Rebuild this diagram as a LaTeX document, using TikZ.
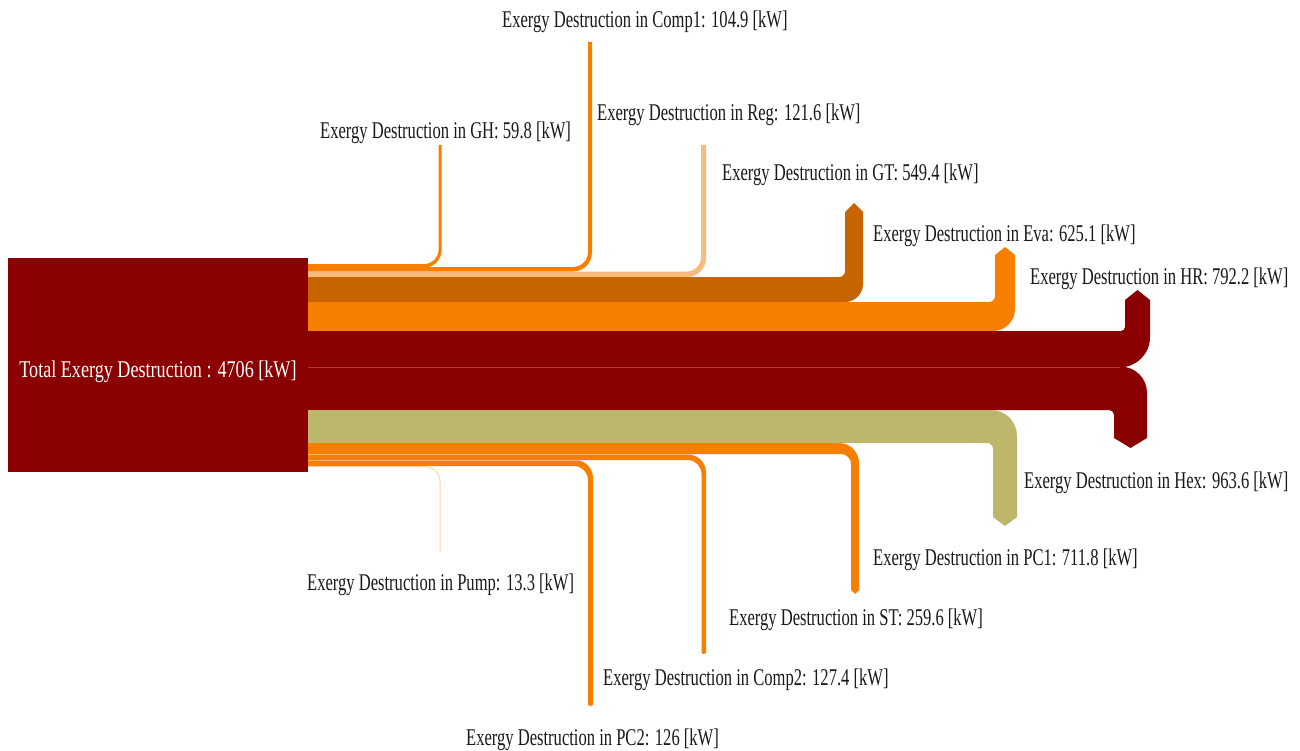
\documentclass[tikz,border=0pt]{standalone}
\usepackage{fontspec}
\setmainfont{Liberation Serif}[FakeStretch=0.69]
\newfontfamily\totalfont{Liberation Serif}[FakeStretch=0.755]
\definecolor{dred}{RGB}{139,0,0}
\definecolor{gtor}{RGB}{200,100,0}
\definecolor{orng}{RGB}{247,127,0}
\definecolor{lor}{RGB}{249,187,125}
\definecolor{olv}{RGB}{189,183,107}
\definecolor{pumpc}{RGB}{255,214,170}
\definecolor{txt}{RGB}{25,25,25}
\newcommand\lblfont{\fontsize{24}{28}\selectfont}
% #1 colour, #2 yt, #3 yb, #4 xl, #5 xr, #6 outer radius, #7 inner radius, #8 end y, #9 tip y
\newcommand\upflow[9]{%
  \fill[#1] (306,#2) -- ({#4-#7},#2) .. controls ({#4-0.448*#7},#2) and (#4,{#2-0.448*#7}) .. (#4,{#2-#7})
    -- (#4,#8) -- ({(#4+#5)/2},#9) -- (#5,#8) -- (#5,{#3-#6})
    .. controls (#5,{#3-0.448*#6}) and ({#5-0.448*#6},#3) .. ({#5-#6},#3) -- (306,#3) -- cycle;}
\newcommand\downflow[9]{%
  \fill[#1] (306,#2) -- ({#5-#6},#2) .. controls ({#5-0.448*#6},#2) and (#5,{#2+0.448*#6}) .. (#5,{#2+#6})
    -- (#5,#8) -- ({(#4+#5)/2},#9) -- (#4,#8) -- (#4,{#3+#7})
    .. controls (#4,{#3+0.448*#7}) and ({#4-0.448*#7},#3) .. ({#4-#7},#3) -- (306,#3) -- cycle;}
\begin{document}
\begin{tikzpicture}[x=1pt,y=-1pt,
  lbl/.style={anchor=west,inner sep=0pt,font=\lblfont,text=txt}]
\useasboundingbox[fill=white] (0,0) rectangle (1300,751);
% upward flows
\upflow{orng}{264}{267.5}{438.5}{441.5}{17}{14}{145}{145}
\upflow{orng}{267}{271.5}{588}{592}{19}{15}{42}{42}
\upflow{lor}{271.5}{277}{701}{706}{19}{14}{145}{145}
\upflow{gtor}{277}{302}{845}{863}{18}{6}{212}{203}
\upflow{orng}{302}{331}{995}{1015}{22}{6}{255}{247}
\upflow{dred}{331}{367.3}{1125}{1150}{30}{4}{300}{290}
% downward flows
\downflow{dred}{366.7}{410}{1114}{1147}{26}{5}{438}{448}
\downflow{olv}{410}{443}{993}{1017}{26}{6}{517}{526}
\downflow{orng}{443}{454}{851}{859}{20}{10}{590}{594}
\downflow{orng}{454.5}{460}{701.5}{706}{18}{14}{653}{654}
\downflow{orng}{460}{466}{588}{593}{18}{14}{705}{706}
\downflow{pumpc}{466}{467}{439.5}{440.5}{16}{15}{552}{552}
% seams
\draw[line width=0.8pt,color=dred!75!white] (308,367) -- (1120,367);
\draw[line width=0.6pt,color=orng!55!white] (308,454.3) -- (690,454.3);
\draw[line width=0.6pt,color=orng!55!white] (308,460) -- (578,460);
% source box
\node[fill=dred,minimum width=300pt,minimum height=214pt,inner sep=0pt,anchor=north west] (total) at (8,258) {};
\node[font=\totalfont\lblfont,text=white,inner sep=0pt] (totaltxt) at (158,372) {Total Exergy Destruction : 4706 [kW]};
% labels
\node[lbl] (lcomp1) at (502,22) {Exergy Destruction in Comp1: 104.9 [kW]};
\node[lbl] (lgh) at (320,133) {Exergy Destruction in GH: 59.8 [kW]};
\node[lbl] (lreg) at (597,115) {Exergy Destruction in Reg: 121.6 [kW]};
\node[lbl] (lgt) at (722,175) {Exergy Destruction in GT: 549.4 [kW]};
\node[lbl] (leva) at (873,236) {Exergy Destruction in Eva: 625.1 [kW]};
\node[lbl] (lhr) at (1030,279) {Exergy Destruction in HR: 792.2 [kW]};
\node[lbl] (lhex) at (1024,483) {Exergy Destruction in Hex: 963.6 [kW]};
\node[lbl] (lpc1) at (873,560) {Exergy Destruction in PC1: 711.8 [kW]};
\node[lbl] (lpump) at (307,585) {Exergy Destruction in Pump: 13.3 [kW]};
\node[lbl] (lst) at (729,620) {Exergy Destruction in ST: 259.6 [kW]};
\node[lbl] (lcomp2) at (603,680) {Exergy Destruction in Comp2: 127.4 [kW]};
\node[lbl] (lpc2) at (466,740) {Exergy Destruction in PC2: 126 [kW]};
\end{tikzpicture}
\end{document}
